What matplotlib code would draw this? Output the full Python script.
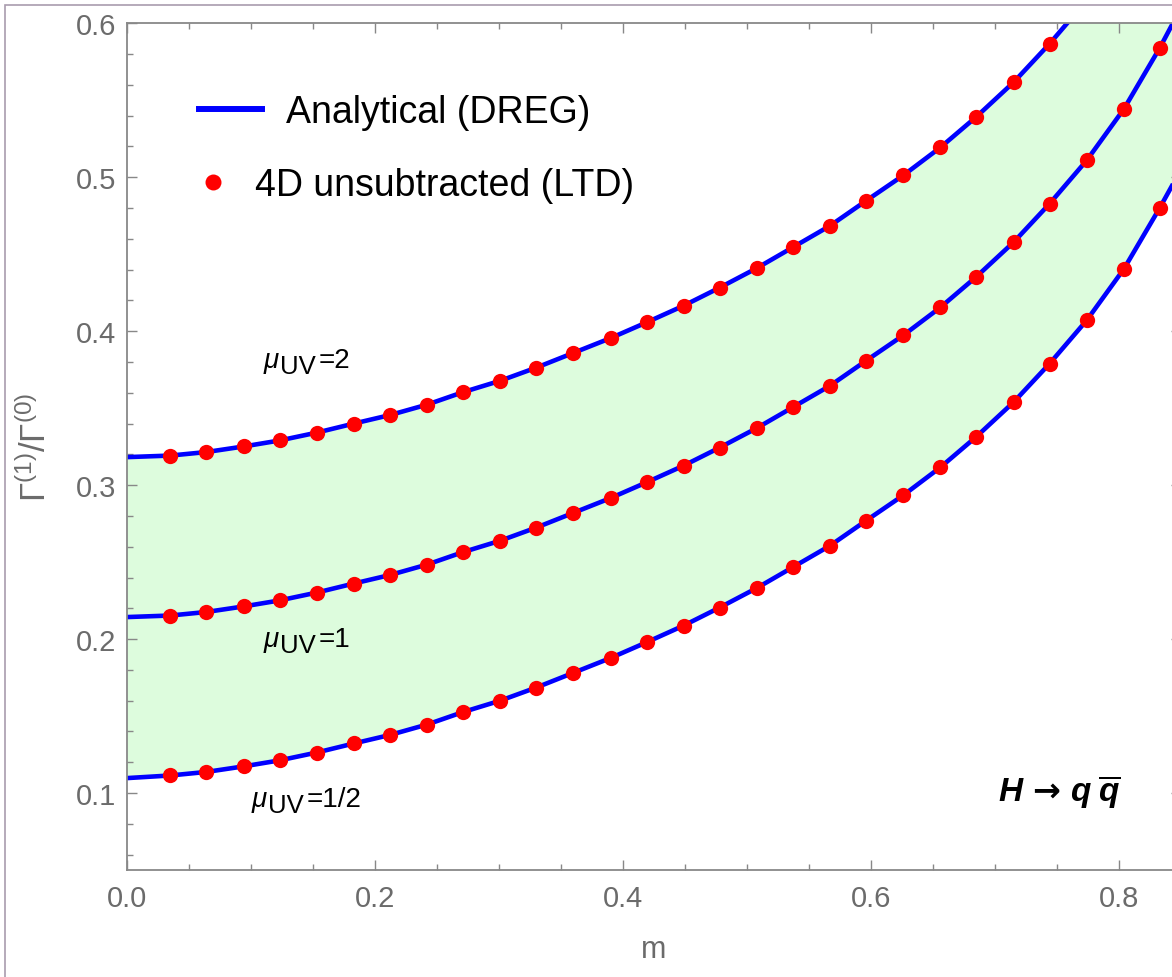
import matplotlib
matplotlib.use('Agg')
import matplotlib.pyplot as plt
from matplotlib.ticker import MultipleLocator, FormatStrFormatter
from matplotlib.patches import Rectangle
from matplotlib.lines import Line2D

plt.rcParams['font.family'] = ['Liberation Sans', 'DejaVu Sans']
plt.rcParams['mathtext.fontset'] = 'custom'
plt.rcParams['mathtext.rm'] = 'Liberation Sans'
plt.rcParams['mathtext.it'] = 'Liberation Sans:italic'
plt.rcParams['mathtext.bf'] = 'DejaVu Sans:bold'   # only used for the arrow
plt.rcParams['mathtext.bfit'] = 'Liberation Sans:bold:italic'

# m values of the LTD points
m_pts = [0.035, 0.064, 0.094, 0.123, 0.153, 0.183, 0.212, 0.242, 0.271, 0.301,
         0.330, 0.360, 0.390, 0.419, 0.449, 0.478, 0.508, 0.537, 0.567, 0.596,
         0.626, 0.656, 0.685, 0.715, 0.744, 0.774, 0.804, 0.833]

# mu_UV = 2 (only the points inside the plot range)
top_pts = [0.3192, 0.3215, 0.3251, 0.3290, 0.3341, 0.3400, 0.3455, 0.3523, 0.3604, 0.3678,
           0.3763, 0.3859, 0.3955, 0.4057, 0.4166, 0.4283, 0.4410, 0.4545, 0.4685, 0.4847,
           0.5012, 0.5194, 0.5393, 0.5617, 0.5867]
# mu_UV = 1
mid_pts = [0.2153, 0.2176, 0.2212, 0.2251, 0.2302, 0.2361, 0.2416, 0.2484, 0.2565, 0.2639,
           0.2724, 0.2820, 0.2916, 0.3018, 0.3127, 0.3244, 0.3371, 0.3506, 0.3646, 0.3808,
           0.3973, 0.4155, 0.4354, 0.4578, 0.4828, 0.5110, 0.5444, 0.5842]
# mu_UV = 1/2
bot_pts = [0.1114, 0.1137, 0.1173, 0.1212, 0.1263, 0.1322, 0.1377, 0.1445, 0.1526, 0.1600,
           0.1685, 0.1781, 0.1877, 0.1979, 0.2088, 0.2205, 0.2332, 0.2467, 0.2607, 0.2769,
           0.2934, 0.3116, 0.3315, 0.3539, 0.3789, 0.4071, 0.4405, 0.4803]

# analytical curves: value at m=0, and beyond the last point / outside the frame
m_start, m_end = 0.0, 0.85
top_start, mid_start, bot_start = 0.3182, 0.2143, 0.1097
top_beyond = [0.6149, 0.6483, 0.6881, 0.7120]
mid_end, bot_end = 0.6100, 0.5050

m_line = [m_start] + m_pts + [m_end]
top_line = [top_start] + top_pts + top_beyond
mid_line = [mid_start] + mid_pts + [mid_end]
bot_line = [bot_start] + bot_pts + [bot_end]

mu_values = ['2', '1', '1/2']
mu_label_pos = [(0.1097, 0.3766), (0.1097, 0.1956), (0.1000, 0.0916)]

W, H = 1172, 978
fig = plt.figure(figsize=(W / 100, H / 100), dpi=100)
ax = fig.add_axes([127 / W, 1 - 871 / H, 1054 / W, (871 - 24.3) / H])

# outer frame of the graphic (cut off on the right and bottom)
fig.patches.append(Rectangle((5 / W, -0.1), 1.2, 1.1 - 6 / H, transform=fig.transFigure,
                             fill=False, edgecolor='#a99cae', lw=1.2))

ax.fill_between(m_line, bot_line, top_line, color='#ddfcdd', lw=0, zorder=1)
for yl in (top_line, mid_line, bot_line):
    ax.plot(m_line, yl, color='#0000ff', lw=3.3, zorder=2, solid_capstyle='butt')
ax.plot(m_pts[:len(top_pts)], top_pts, 'o', color='#ff0000', ms=11, mew=0, zorder=3)
ax.plot(m_pts, mid_pts, 'o', color='#ff0000', ms=11, mew=0, zorder=3)
ax.plot(m_pts, bot_pts, 'o', color='#ff0000', ms=11, mew=0, zorder=3)

# mu_UV labels: mu, subscript UV, "=value" (pieces placed at pixel offsets)
for val, (x, y) in zip(mu_values, mu_label_pos):
    ax.annotate(r'$\mu$', (x, y), xytext=(0, 0), textcoords='offset pixels',
                fontsize=20, ha='left', va='baseline')
    ax.annotate('UV', (x, y), xytext=(17, -6), textcoords='offset pixels',
                fontsize=18.5, ha='left', va='baseline')
    ax.annotate('=' + val, (x, y), xytext=(56, 0), textcoords='offset pixels',
                fontsize=20, ha='left', va='baseline')

ax.text(0.752, 0.101, r'$\mathbfit{H}\,\mathbf{\rightarrow}\,\mathbfit{q}\;\overline{\mathbfit{q}}$',
        fontsize=24, ha='center', va='center')

ax.set_xlim(0, 0.85)
ax.set_ylim(0.05, 0.6)
ax.xaxis.set_major_locator(MultipleLocator(0.2))
ax.xaxis.set_minor_locator(MultipleLocator(0.05))
ax.yaxis.set_major_locator(MultipleLocator(0.1))
ax.yaxis.set_minor_locator(MultipleLocator(0.02))
ax.xaxis.set_major_formatter(FormatStrFormatter('%.1f'))
ax.yaxis.set_major_formatter(FormatStrFormatter('%.1f'))

gray = '#888888'
for sp in ax.spines.values():
    sp.set_color(gray)
    sp.set_linewidth(1.3)
ax.tick_params(which='both', direction='in', top=True, right=True, color=gray,
               labelcolor='#6b6b6b', labelsize=21, width=1.0)
ax.tick_params(which='major', length=7.2)
ax.tick_params(which='minor', length=4.3)
ax.tick_params(axis='x', pad=10)
ax.tick_params(axis='y', pad=8)

ax.set_xlabel('m', fontsize=22, color='#6b6b6b', labelpad=16)
ax.set_ylabel(r'$\Gamma^{(1)}/\Gamma^{(0)}$', fontsize=25, color='#6b6b6b', va='center')
ax.yaxis.set_label_coords((35 - 127) / 1054, 0.5)

# legend entries
h1 = Line2D([], [], color='#0000ff', lw=4.3)
leg1 = ax.legend([h1], ['Analytical (DREG)'], loc='center left', frameon=False,
                 fontsize=27, handlelength=1.68, handletextpad=0.64,
                 borderpad=0, borderaxespad=0,
                 bbox_to_anchor=(199 / W, 1 - 113 / H), bbox_transform=fig.transFigure)
ax.add_artist(leg1)
h2 = Line2D([], [], color='#ff0000', marker='o', ls='', ms=11.5, mew=0)
ax.legend([h2], ['4D unsubtracted (LTD)'], loc='center left', frameon=False,
          fontsize=27, handlelength=1.0, handletextpad=0.63,
          borderpad=0, borderaxespad=0,
          bbox_to_anchor=(194 / W, 1 - 186 / H), bbox_transform=fig.transFigure)

fig.savefig('out.png', dpi=100)
